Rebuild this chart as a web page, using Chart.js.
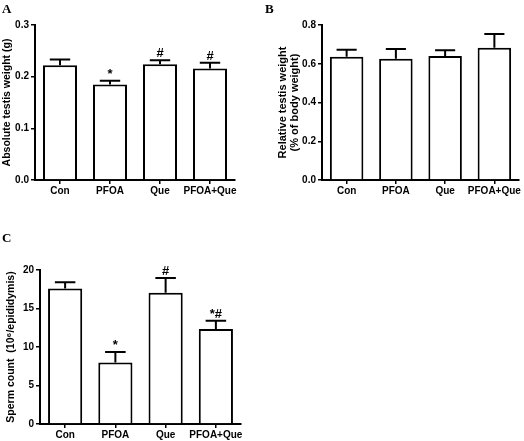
<!DOCTYPE html>
<html>
<head>
<meta charset="utf-8">
<script src="https://cdn.jsdelivr.net/npm/chart.js@4.4.0/dist/chart.umd.min.js"></script>
<style>
html,body{margin:0;padding:0;background:#fff;}
#wrap{position:relative;width:524px;height:441px;overflow:hidden;}
canvas{position:absolute;}
.tag{position:absolute;font:bold 13px 'Liberation Serif','Times New Roman',serif;line-height:13px;color:#000;}
</style>
</head>
<body>
<div id="wrap">
  <canvas id="cA" width="262" height="215" style="left:0;top:0"></canvas>
  <canvas id="cB" width="262" height="215" style="left:262px;top:0"></canvas>
  <canvas id="cC" width="262" height="221" style="left:0;top:220px"></canvas>
  <div class="tag" style="left:2px;top:2px">A</div>
  <div class="tag" style="left:265px;top:2px">B</div>
  <div class="tag" style="left:2px;top:231px">C</div>
</div>
<script>
/* ─── DATA ──────────────────────────────── */
const GROUPS = ['Con','PFOA','Que','PFOA+Que'];

const absWeight    = [0.222, 0.185, 0.224, 0.216];
const absWeightErr = [0.011, 0.007, 0.008, 0.011];
const absMarks     = ['', '*', '#', '#'];
const absTicks     = [0, 0.1, 0.2, 0.3];

const relWeight    = [0.636, 0.626, 0.640, 0.683];
const relWeightErr = [0.036, 0.050, 0.030, 0.070];
const relMarks     = ['', '', '', ''];
const relTicks     = [0, 0.2, 0.4, 0.6, 0.8];

const sperm        = [17.6, 8.0, 17.05, 12.35];
const spermErr     = [0.8, 1.35, 1.9, 1.05];
const spermMarks   = ['', '*', '#', '*#'];
const spermTicks   = [0, 5, 10, 15, 20];

const FAMILY = "Arial, 'Liberation Sans', sans-serif";
const FONT = {family:FAMILY, size:10, weight:'bold', lineHeight:1.1};

/* ─── ERROR BARS + SIGNIFICANCE MARKS ───── */
const errorBars = {
  id:'errorBars',
  afterDatasetsDraw(chart, args, opts){
    const meta = chart.getDatasetMeta(0);
    const ys   = chart.scales.y;
    const ctx  = chart.ctx;
    ctx.save();
    ctx.strokeStyle='#000'; ctx.lineWidth=2;
    meta.data.forEach((bar,i)=>{
      const top  = ys.getPixelForValue(opts.values[i]+opts.errors[i]);
      const half = bar.width*0.3;
      ctx.beginPath();
      ctx.moveTo(bar.x, bar.y); ctx.lineTo(bar.x, top);
      ctx.moveTo(bar.x-half, top); ctx.lineTo(bar.x+half, top);
      ctx.stroke();
      const m = opts.marks[i];
      if(m){
        ctx.fillStyle='#000';
        ctx.font='bold 13px '+FAMILY;
        ctx.textAlign='center'; ctx.textBaseline='alphabetic';
        ctx.fillText(m, bar.x, top-3);
      }
    });
    ctx.restore();
  }
};

function build(id, o){
  return new Chart(document.getElementById(id), {
    type:'bar',
    data:{ labels:GROUPS, datasets:[{
      data:o.values, backgroundColor:'#fff', borderColor:'#000', borderWidth:2,
      barPercentage:0.68, categoryPercentage:1, borderSkipped:'bottom'
    }]},
    options:{
      responsive:false, animation:false,
      layout:{padding:{top:o.top, right:o.right, left:0, bottom:0}},
      plugins:{
        legend:{display:false}, tooltip:{enabled:false},
        errorBars:{values:o.values, errors:o.errors, marks:o.marks}
      },
      scales:{
        x:{
          grid:{display:true, drawOnChartArea:false, offset:false, tickLength:4, color:'#000', lineWidth:1.5},
          border:{color:'#000', width:2},
          ticks:{color:'#000', font:FONT, padding:2, maxRotation:0, autoSkip:false},
          afterFit: s=>{ s.height = o.xh; }
        },
        y:{
          min:0, max:o.ticks[o.ticks.length-1],
          afterBuildTicks: s=>{ s.ticks = o.ticks.map(v=>({value:v})); },
          grid:{drawOnChartArea:false, tickLength:4, color:'#000', lineWidth:1.5},
          border:{color:'#000', width:2},
          ticks:{color:'#000', font:FONT, padding:2, callback:v=>o.fmt(v)},
          title:{display:true, text:o.title, color:'#000',
                 font:{family:FAMILY, size:o.tsize, weight:'bold', lineHeight:o.tlh},
                 padding:{top:o.tpad, bottom:0}},
          afterFit: s=>{ s.width = o.yw; }
        }
      }
    },
    plugins:[errorBars]
  });
}

build('cA', {values:absWeight, errors:absWeightErr, marks:absMarks, ticks:absTicks,
  fmt:v=>v.toFixed(1), title:'Absolute testis weight (g)', tsize:10.5, tlh:1.1,
  top:25, right:27, yw:35, xh:35, tpad:1});

build('cB', {values:relWeight, errors:relWeightErr, marks:relMarks, ticks:relTicks,
  fmt:v=>v.toFixed(1), title:['Relative testis weight','(% of body weight)'], tsize:11, tlh:1.1,
  top:25, right:5, yw:60, xh:35, tpad:14.5});

build('cC', {values:sperm, errors:spermErr, marks:spermMarks, ticks:spermTicks,
  fmt:v=>String(v), title:'Sperm count  (10\u2076/epididymis)', tsize:10.5, tlh:1.1,
  top:50, right:21, yw:40, xh:17, tpad:5});
</script>
</body>
</html>
